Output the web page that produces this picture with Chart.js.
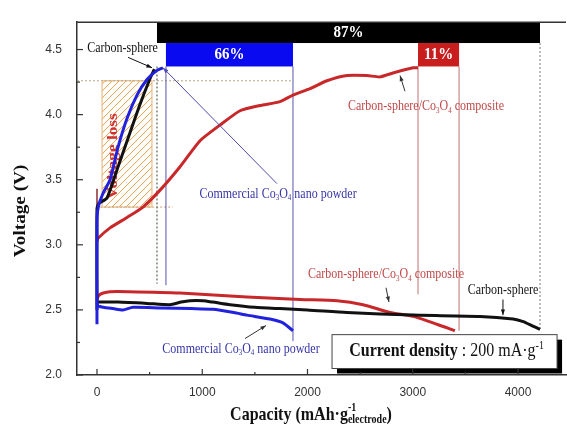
<!DOCTYPE html>
<html>
<head>
<meta charset="utf-8">
<script src="https://cdn.jsdelivr.net/npm/chart.js@4.4.1/dist/chart.umd.min.js"></script>
<style>
  html, body { margin: 0; padding: 0; background: #fff; }
  #wrap { width: 567px; height: 435px; }
</style>
</head>
<body>
<div id="wrap"><canvas id="cv" width="567" height="435"></canvas></div>
<script>
// values: capacity (mAh/g) and voltage (V)
const blueChargeCap = [0, 0, 15, 60, 124, 200, 285, 380, 475, 570, 627];
const blueChargeV = [2.39, 3.2, 3.3, 3.4, 3.5, 3.75, 3.97, 4.15, 4.27, 4.34, 4.36];
const blueDischargeCap = [0, 10, 60, 152, 247, 342, 600, 900, 1102, 1300, 1425, 1644, 1767, 1862];
const blueDischargeV = [2.56, 2.53, 2.52, 2.51, 2.5, 2.52, 2.515, 2.51, 2.505, 2.48, 2.46, 2.43, 2.4, 2.34];

const blackChargeCap = [0, 0, 20, 95, 200, 300, 400, 500, 545];
const blackChargeV = [2.5, 3.28, 3.32, 3.36, 3.6, 3.83, 4.06, 4.27, 4.35];
const blackDischargeCap = [0, 20, 200, 475, 694, 800, 884, 1007, 1100, 1264, 1500, 1739, 2000, 2375, 3003, 3639, 3953, 4050, 4130, 4209];
const blackDischargeV = [2.56, 2.56, 2.56, 2.55, 2.54, 2.56, 2.57, 2.57, 2.56, 2.54, 2.52, 2.51, 2.5, 2.48, 2.46, 2.45, 2.43, 2.41, 2.38, 2.35];

const redChargeCap = [0, 10, 124, 285, 437, 599, 789, 979, 1169, 1359, 1549, 1739, 1862, 2024, 2185, 2375, 2565, 2689, 2812, 3003, 3050];
const redChargeV = [3.03, 3.05, 3.13, 3.21, 3.29, 3.42, 3.6, 3.8, 3.92, 4.03, 4.07, 4.1, 4.15, 4.2, 4.26, 4.3, 4.3, 4.29, 4.32, 4.36, 4.36];
const redDischargeCap = [0, 15, 60, 124, 300, 789, 1425, 1929, 2280, 2527, 2784, 3003, 3230, 3400];
const redDischargeV = [2.58, 2.61, 2.63, 2.64, 2.64, 2.63, 2.6, 2.58, 2.57, 2.54, 2.48, 2.45, 2.39, 2.34];
const redSpikeCap = [0, 0];
const redSpikeV = [3.28, 3.43];

// coulombic efficiency bars (capacity range, voltage range)
const effLabels = ["87%", "66%", "11%"];
const effFrom = [570, 655, 3050];
const effTo = [4209, 1862, 3440];
const effLow = [4.55, 4.37, 4.37];
const effHigh = [4.71, 4.55, 4.55];

// axis ticks
const xTicks = [0, 1000, 2000, 3000, 4000];
const yTicks = [2.0, 2.5, 3.0, 3.5, 4.0, 4.5];

const toPts = (xs, ys) => xs.map((x, i) => ({ x: x, y: ys[i] }));

const BLUE = "#2222dd";
const RED = "#c8282a";
const BLACK = "#111111";
const SERIF = "'Liberation Serif', 'DejaVu Serif', serif";

function line(ctx, x1, y1, x2, y2, color, width, dash) {
  ctx.save();
  ctx.strokeStyle = color;
  ctx.lineWidth = width;
  ctx.setLineDash(dash || []);
  ctx.beginPath();
  ctx.moveTo(x1, y1);
  ctx.lineTo(x2, y2);
  ctx.stroke();
  ctx.restore();
}

function arrow(ctx, x1, y1, x2, y2, color) {
  line(ctx, x1, y1, x2, y2, color, 1);
  const a = Math.atan2(y2 - y1, x2 - x1);
  ctx.save();
  ctx.fillStyle = color;
  ctx.beginPath();
  ctx.moveTo(x2, y2);
  ctx.lineTo(x2 - 6 * Math.cos(a - 0.35), y2 - 6 * Math.sin(a - 0.35));
  ctx.lineTo(x2 - 6 * Math.cos(a + 0.35), y2 - 6 * Math.sin(a + 0.35));
  ctx.closePath();
  ctx.fill();
  ctx.restore();
}

// parts: [text, kind, weight] with kind "", "sub", "sup" or "stack" (text = [sup, sub])
function rich(ctx, parts, cx, cy, size, color, weight, stretch) {
  const fontOf = (k, w) => (w || weight) + " " + (k ? Math.round(size * 0.6) : size) + "px " + SERIF;
  ctx.save();
  const widths = parts.map(([t, k, w]) => {
    ctx.font = fontOf(k, w);
    if (k === "stack") return Math.max(ctx.measureText(t[0]).width, ctx.measureText(t[1]).width);
    return ctx.measureText(t).width;
  });
  const total = widths.reduce((a, b) => a + b, 0);
  ctx.translate(cx, cy);
  ctx.scale(1, stretch || 1.15);
  ctx.fillStyle = color;
  ctx.textBaseline = "middle";
  ctx.textAlign = "left";
  let x = -total / 2;
  parts.forEach(([t, k, w], i) => {
    ctx.font = fontOf(k, w);
    if (k === "stack") {
      ctx.fillText(t[0], x, -size * 0.38);
      ctx.fillText(t[1], x, size * 0.3);
    } else {
      const dy = k === "sub" ? size * 0.3 : k === "sup" ? -size * 0.32 : 0;
      ctx.fillText(t, x, dy);
    }
    x += widths[i];
  });
  ctx.restore();
  return total;
}

const co3o4 = (pre, post) => [[pre + "Co", ""], ["3", "sub"], ["O", ""], ["4", "sub"], [post, ""]];

const decor = {
  id: "decor",
  beforeDatasetsDraw(chart) {
    const ctx = chart.ctx;
    const sx = chart.scales.x, sy = chart.scales.y;
    const X = (c) => sx.getPixelForValue(c);
    const Y = (v) => sy.getPixelForValue(v);

    // voltage loss hatched box
    const hx1 = X(48), hx2 = X(522), hy1 = Y(4.26), hy2 = Y(3.29);
    ctx.save();
    ctx.beginPath();
    ctx.rect(hx1, hy1, hx2 - hx1, hy2 - hy1);
    ctx.clip();
    ctx.strokeStyle = "#e2a24a";
    ctx.lineWidth = 1;
    for (let k = -200; k < 200; k += 7) {
      ctx.beginPath();
      ctx.moveTo(hx1 + k, hy2);
      ctx.lineTo(hx1 + k + 140, hy2 - 140);
      ctx.stroke();
    }
    ctx.restore();
    ctx.save();
    ctx.strokeStyle = "#e8b070";
    ctx.lineWidth = 1;
    ctx.strokeRect(hx1, hy1, hx2 - hx1, hy2 - hy1);
    ctx.restore();

    // guide lines
    line(ctx, X(-190), Y(4.26), X(1862), Y(4.26), "#b8a888", 1, [2, 2]);
    line(ctx, X(30), Y(3.29), X(720), Y(3.29), "#c8a070", 1, [2, 2]);
    line(ctx, X(570), Y(4.37), X(570), Y(2.7), "#556655", 1.2, [2, 2]);
    line(ctx, X(4209), Y(4.55), X(4209), Y(2.34), "#777", 1, [2, 2]);
    line(ctx, X(655), Y(4.37), X(655), Y(2.69), "#5555aa", 1);
    line(ctx, X(1862), Y(4.37), X(1862), Y(2.26), "#5555aa", 1);
    line(ctx, X(3050), Y(4.37), X(3050), Y(2.62), "#c07070", 1);
    line(ctx, X(3440), Y(4.37), X(3440), Y(2.34), "#c07070", 1);

    // Voltage loss label
    ctx.save();
    ctx.translate(X(150), Y(3.68));
    ctx.rotate(-Math.PI / 2);
    ctx.scale(1.15, 1);
    ctx.font = "bold 15px " + SERIF;
    ctx.fillStyle = "#d03030";
    ctx.textAlign = "center";
    ctx.textBaseline = "middle";
    ctx.fillText("Voltage loss", 0, 0);
    ctx.restore();
  },
  afterDatasetsDraw(chart) {
    const ctx = chart.ctx;
    const sx = chart.scales.x, sy = chart.scales.y;
    const X = (c) => sx.getPixelForValue(c);
    const Y = (v) => sy.getPixelForValue(v);
    const area = chart.chartArea;

    // efficiency bars
    const fills = ["#000000", "#0a0af0", "#c81e1e"];
    effLabels.forEach((lab, i) => {
      const x1 = X(effFrom[i]), x2 = X(effTo[i]);
      const y1 = Y(effHigh[i]), y2 = Y(effLow[i]);
      ctx.fillStyle = fills[i];
      ctx.fillRect(x1, y1, x2 - x1, y2 - y1);
      rich(ctx, [[lab, ""]], (x1 + x2) / 2, (y1 + y2) / 2, 15, "#fff", "bold", 1.1);
    });

    // annotations
    rich(ctx, [["Carbon-sphere", ""]], X(242), Y(4.51), 12, BLACK, "normal");
    arrow(ctx, X(295), Y(4.44), X(523), Y(4.36), BLACK);

    rich(ctx, co3o4("Commercial ", " nano powder"), X(1720), Y(3.39), 12, "#3535a8", "normal");
    arrow(ctx, X(1710), Y(3.47), X(627), Y(4.36), "#4a4aa8");

    rich(ctx, [["Carbon-sphere/", ""]].concat(co3o4("", " composite")), X(3126), Y(4.06), 12, "#c04848", "normal");
    arrow(ctx, X(2926), Y(4.18), X(2879), Y(4.3), "#333");

    rich(ctx, [["Carbon-sphere/", ""]].concat(co3o4("", " composite")), X(2746), Y(2.77), 12, "#c04848", "normal");
    arrow(ctx, X(2746), Y(2.67), X(2774), Y(2.56), "#333");

    rich(ctx, [["Carbon-sphere", ""]], X(3857), Y(2.65), 12, BLACK, "normal");
    arrow(ctx, X(3857), Y(2.58), X(3857), Y(2.46), BLACK);

    rich(ctx, co3o4("Commercial ", " nano powder"), X(1368), Y(2.2), 12, "#3535a8", "normal");
    arrow(ctx, X(1406), Y(2.28), X(1606), Y(2.38), "#333");

    // current density box
    const bx1 = X(2233), bx2 = X(4371), by1 = Y(2.31), by2 = Y(2.05);
    ctx.fillStyle = "#000";
    ctx.fillRect(bx1 + 5, by1 + 5, bx2 - bx1, by2 - by1);
    ctx.fillStyle = "#fff";
    ctx.fillRect(bx1, by1, bx2 - bx1, by2 - by1);
    ctx.strokeStyle = "#444";
    ctx.lineWidth = 1;
    ctx.strokeRect(bx1, by1, bx2 - bx1, by2 - by1);
    rich(ctx, [["Current density", "", "bold"], [" : 200 mA\u00b7g", ""], ["-1", "sup"]],
      (bx1 + bx2) / 2 + 2, (by1 + by2) / 2, 16, BLACK, "normal");

    // inward ticks and top frame
    ctx.save();
    ctx.strokeStyle = "#333";
    ctx.lineWidth = 1.2;
    const tick = (x1, y1, x2, y2) => { ctx.beginPath(); ctx.moveTo(x1, y1); ctx.lineTo(x2, y2); ctx.stroke(); };
    sx.ticks.forEach((t) => {
      tick(X(t.value), area.bottom, X(t.value), area.bottom - 6);
      const m = t.value + 500;
      if (m < sx.max) tick(X(m), area.bottom, X(m), area.bottom - 3);
    });
    sy.ticks.forEach((t) => {
      tick(area.left, Y(t.value), area.left + 6, Y(t.value));
      const m = t.value + 0.25;
      if (m < sy.max) tick(area.left, Y(m), area.left + 3, Y(m));
    });
    ctx.lineWidth = 1.5;
    tick(area.left, area.top, area.right, area.top);
    ctx.restore();

    // axis titles
    rich(ctx, [["Capacity (mAh\u00b7g", ""], [["-1", "electrode"], "stack"], [")", ""]], 311, 415, 16, BLACK, "bold");
    ctx.save();
    ctx.translate(21, 211);
    ctx.rotate(-Math.PI / 2);
    ctx.scale(1.2, 1);
    ctx.font = "bold 16px " + SERIF;
    ctx.fillStyle = BLACK;
    ctx.textAlign = "center";
    ctx.textBaseline = "middle";
    ctx.fillText("Voltage (V)", 0, 0);
    ctx.restore();
  }
};

const curve = (cap, v, color, width) => ({
  data: toPts(cap, v),
  showLine: true,
  borderColor: color,
  backgroundColor: color,
  borderWidth: width || 3,
  pointRadius: 0,
  tension: 0.2,
  fill: false
});

const tickFont = { family: "'Liberation Sans', Arial, sans-serif", size: 12 };

new Chart(document.getElementById("cv"), {
  type: "scatter",
  data: {
    datasets: [
      curve(blueChargeCap, blueChargeV, BLUE),
      curve(blueDischargeCap, blueDischargeV, BLUE),
      curve(blackChargeCap, blackChargeV, BLACK),
      curve(blackDischargeCap, blackDischargeV, BLACK),
      curve(redChargeCap, redChargeV, RED),
      curve(redDischargeCap, redDischargeV, RED),
      curve(redSpikeCap, redSpikeV, "#8a3030", 1.5)
    ]
  },
  options: {
    responsive: false,
    animation: false,
    layout: { padding: { top: 11, right: 1, left: 0, bottom: 0 } },
    plugins: {
      legend: { display: false },
      tooltip: { enabled: false }
    },
    scales: {
      x: {
        type: "linear",
        min: -190,
        max: 4456,
        afterBuildTicks: (s) => { s.ticks = xTicks.map((v) => ({ value: v })); },
        afterFit: (s) => { s.height = 60; },
        grid: { display: false, drawTicks: false },
        border: { display: true, color: "#333", width: 1.5 },
        ticks: { padding: 10, color: "#333", font: tickFont, callback: (v) => String(v) }
      },
      y: {
        type: "linear",
        min: 2.0,
        max: 4.71,
        afterBuildTicks: (s) => { s.ticks = yTicks.map((v) => ({ value: v })); },
        afterFit: (s) => { s.width = 77; },
        grid: { display: false, drawTicks: false },
        border: { display: true, color: "#333", width: 1.5 },
        ticks: { padding: 15, color: "#333", font: tickFont, callback: (v) => Number(v).toFixed(1) }
      }
    }
  },
  plugins: [decor]
});
</script>
</body>
</html>
